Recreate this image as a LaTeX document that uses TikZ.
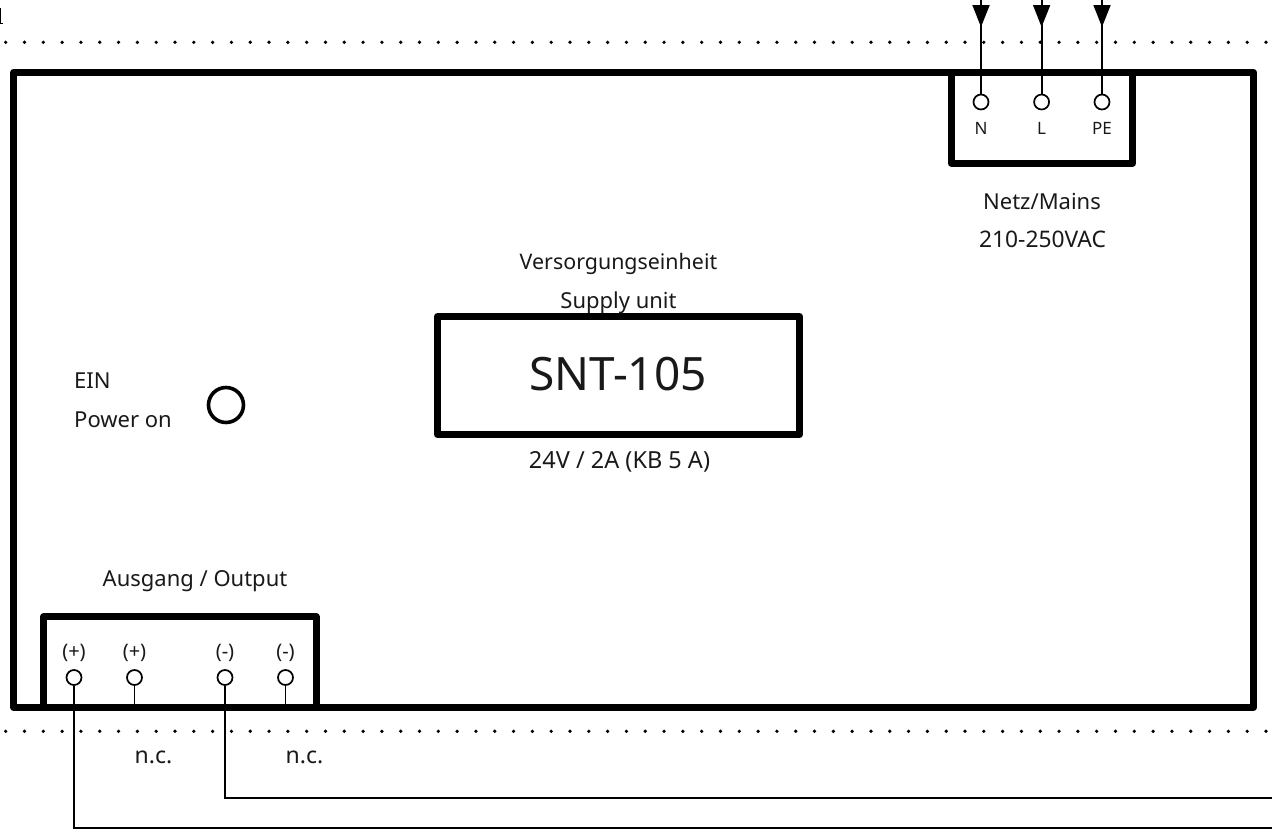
\documentclass[tikz,border=0pt]{standalone}
\usepackage{fontspec}
\setmainfont{Noto Sans}
\usetikzlibrary{arrows.meta}
\tikzset{
  x=1pt,y=-1pt,
  boxline/.style={line width=7pt,line join=round,black},
  wire/.style={line width=1.8pt,black},
  term/.style={circle,draw=black,line width=1.7pt,fill=white,minimum size=15pt,inner sep=0pt},
  dotline/.style={line width=3.7pt,line cap=round,dash pattern=on 0pt off 18.81pt,black},
  lab/.style={inner sep=0pt,font=\fontsize{22}{24}\selectfont,text=black!90},
  small/.style={inner sep=0pt,font=\fontsize{17}{19}\selectfont,text=black!90},
  paren/.style={inner sep=0pt,font=\fontsize{20}{22}\selectfont,text=black!90},
  tip/.style={-{Triangle[length=22pt,width=17pt,sep=0pt]}}
}
\begin{document}
\begin{tikzpicture}
\useasboundingbox (0,0) rectangle (1272,833);
\clip (0,0) rectangle (1272,833);
\draw[line width=1pt] (0.5,8) -- (0.5,23.5) -- (3,23.5);
% dotted rails
\coordinate (dl1) at (5.7,42.3); \coordinate (dr1) at (1272,42.3);
\coordinate (dl2) at (5.7,731.3); \coordinate (dr2) at (1272,731.3);
\draw[dotline] (dl1) -- (dr1);
\draw[dotline] (dl2) -- (dr2);
% boxes
\draw[boxline] (13.7,72.5) rectangle (1253.7,707.3);
\draw[boxline] (951.3,72.5) -- (951.3,163) -- (1132.7,163) -- (1132.7,72.5);
\draw[boxline] (43.7,707.3) -- (43.7,616.7) -- (316,616.7) -- (316,707.3);
\node[draw=black,line width=7pt,line join=round,minimum width=362pt,minimum height=118pt,inner sep=0pt,text=black!90] (snt) at (618.5,375.5) {};
\node[inner sep=0pt,font=\fontsize{46}{50}\selectfont,text=black!90] (snttext) at (618,374.5) {SNT-105};
\node[circle,draw=black,line width=3.6pt,minimum size=35pt,inner sep=0pt] (led) at (226,405) {};
% mains terminals
\node[term] (n) at (981,102) {};
\node[term] (l) at (1041.6,102) {};
\node[term] (pe) at (1102,102) {};
\coordinate (nt) at (981,0); \coordinate (lt) at (1041.6,0); \coordinate (pet) at (1102,0);
\coordinate (nm) at (981,27); \coordinate (lm) at (1041.6,27); \coordinate (pem) at (1102,27);
\draw[wire] (nt) -- (n); \draw[wire] (lt) -- (l); \draw[wire] (pet) -- (pe);
\draw[wire,tip] (981,4) -- (nm);
\draw[wire,tip] (1041.6,4) -- (lm);
\draw[wire,tip] (1102,4) -- (pem);
\node[small] at (981,128.5) {N};
\node[small] at (1041.6,128.5) {L};
\node[small] at (1102,128.5) {PE};
% output terminals
\node[term] (o1) at (74,677.5) {};
\node[term] (o2) at (134.5,677.5) {};
\node[term] (o3) at (225,677.5) {};
\node[term] (o4) at (285.5,677.5) {};
\coordinate (e1) at (1272,828.3); \coordinate (e3) at (1272,798.3);
\coordinate (s2) at (134.5,707); \coordinate (s4) at (285.5,707);
\draw[wire] (o1) |- (e1);
\draw[wire] (o3) |- (e3);
\draw[wire] (o2) -- (s2);
\draw[wire] (o4) -- (s4);
\node[paren] at (74,653) {(+)};
\node[paren] at (134.5,653) {(+)};
\node[paren] at (225,653) {(-)};
\node[paren] at (285.5,653) {(-)};
% labels
\node[lab] at (1042,201) {Netz/Mains};
\node[lab,font=\fontsize{22.8}{24}\selectfont] at (1042.5,239) {210-250VAC};
\node[lab,font=\fontsize{21.4}{24}\selectfont] at (618.5,263.5) {Versorgungseinheit};
\node[lab] at (618.5,302.5) {Supply unit};
\node[lab,font=\fontsize{23.5}{24}\selectfont] at (619.5,461.5) {24V / 2A (KB 5 A)};
\node[lab,anchor=west] at (74,381) {EIN};
\node[lab,anchor=west] at (74,420) {Power on};
\node[lab] at (195,581.5) {Ausgang / Output};
\node[lab,font=\fontsize{23}{24}\selectfont] at (153.5,757) {n.c.};
\node[lab,font=\fontsize{23}{24}\selectfont] at (304.5,757) {n.c.};
\end{tikzpicture}
\end{document}
